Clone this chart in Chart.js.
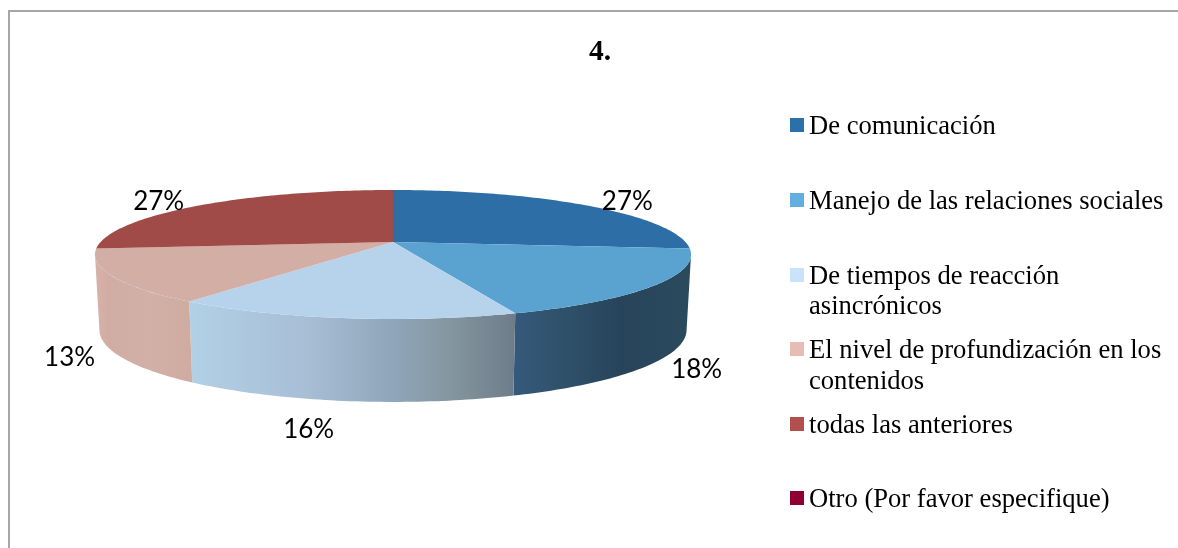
<!DOCTYPE html>
<html>
<head>
<meta charset="utf-8">
<style>html,body{margin:0;padding:0;background:#fff}canvas{display:block}</style>
<script src="https://cdn.jsdelivr.net/npm/chart.js@4/dist/chart.umd.min.js"></script>
</head>
<body>
<canvas id="c" width="1178" height="548"></canvas>
<script>
const titleText = '4.';
const categories = ['De comunicación','Manejo de las relaciones sociales','De tiempos de reacción asincrónicos','El nivel de profundización en los contenidos','todas las anteriores','Otro (Por favor especifique)'];
const counts = [12, 8, 7, 6, 12, 0];
const faceColors = ['#2c6ea5','#5aa3d0','#b7d3ec','#d3aea5','#a04b48','#8e0033'];
const swatchColors = ['#2c70a9','#62aede','#c9e3fa','#e6bdb4','#b04f4d','#8e0033'];
const wallStops = [
  [],
  [[0,'#35597a'],[0.3,'#2e5069'],[0.6,'#27445a'],[1,'#2c4a5e']],
  [[0,'#b2d0e6'],[0.35,'#a8bfd6'],[0.63,'#8fa5b9'],[0.8,'#84969f'],[1,'#6e7c8a']],
  [[0,'#d6b2a8'],[0.15,'#d0aca3'],[0.6,'#d3b0a7'],[1,'#cfaba0']],
  [],[]
];
const legendLines = [['De comunicación'],['Manejo de las relaciones sociales'],['De tiempos de reacción','asincrónicos'],['El nivel de profundización en los','contenidos'],['todas las anteriores'],['Otro (Por favor especifique)']];
const legendBaselines = [[134],[209],[284,314],[358,389],[433],[507]];
const labelOffsets = [[42,-4],[42,84],[-34,112],[-43,81],[-42,-4],[0,0]];

const geo = {cx:393, cy:242, R:292.4, k:62.08, p:0.1938, wallDy:74, wallSx:0.985, wallSy:1.116};
function proj(a){
  const u=Math.cos(a), v=Math.sin(a), w=1-geo.p*v;
  return [geo.cx+geo.R*u/w, geo.cy+geo.k*v/w];
}
function projBottom(a){
  const t=proj(a);
  return [geo.cx+(t[0]-geo.cx)*geo.wallSx, geo.cy+geo.wallDy+(t[1]-geo.cy)*geo.wallSy];
}
function samples(a0,a1){
  const n=Math.max(2,Math.ceil(Math.abs(a1-a0)/(Math.PI/180))), r=[];
  for(let i=0;i<=n;i++) r.push(a0+(a1-a0)*i/n);
  return r;
}
const pie3d = {
  id:'pie3d',
  beforeDatasetsDraw(chart){
    const ctx=chart.ctx, arcs=chart.getDatasetMeta(0).data;
    const lim=Math.asin(geo.p)+0;
    ctx.save();
    // walls
    arcs.forEach((arc,i)=>{
      if(arc.endAngle-arc.startAngle<=0) return;
      let a0=arc.startAngle, a1=arc.endAngle;
      const lo=lim, hi=Math.PI-lim;
      if(a1<=lo||a0>=hi||!wallStops[i].length) return;
      a0=Math.max(a0,lo); a1=Math.min(a1,hi);
      const as=samples(a0,a1), top=as.map(proj), bot=as.map(projBottom).reverse();
      const xs=top.map(p=>p[0]);
      const g=ctx.createLinearGradient(Math.min(...xs),0,Math.max(...xs),0);
      wallStops[i].forEach(s=>g.addColorStop(s[0],s[1]));
      ctx.beginPath();
      top.concat(bot).forEach((p,j)=>j?ctx.lineTo(p[0],p[1]):ctx.moveTo(p[0],p[1]));
      ctx.closePath();
      ctx.fillStyle=g; ctx.fill();
    });
    // top faces
    arcs.forEach((arc,i)=>{
      if(arc.endAngle-arc.startAngle<=0) return;
      ctx.beginPath();
      ctx.moveTo(geo.cx,geo.cy);
      samples(arc.startAngle,arc.endAngle).map(proj).forEach(p=>ctx.lineTo(p[0],p[1]));
      ctx.closePath();
      ctx.fillStyle=faceColors[i]; ctx.fill();
    });
    // data labels
    const total=counts.reduce((a,b)=>a+b,0);
    ctx.fillStyle='#000';
    ctx.font='26px Lato';
    ctx.textAlign='center'; ctx.textBaseline='middle';
    arcs.forEach((arc,i)=>{
      if(counts[i]<=0) return;
      const p=proj((arc.startAngle+arc.endAngle)/2);
      ctx.fillText(Math.round(counts[i]/total*100)+'%',p[0]+labelOffsets[i][0],p[1]+labelOffsets[i][1]);
    });
    ctx.restore();
    return false;
  },
  afterDraw(chart){
    const ctx=chart.ctx;
    ctx.save();
    // outer frame
    ctx.strokeStyle='#a6a6a6'; ctx.lineWidth=2;
    ctx.beginPath(); ctx.moveTo(9,548); ctx.lineTo(9,11); ctx.lineTo(1178,11); ctx.stroke();
    // title
    ctx.fillStyle='#000';
    ctx.font='bold 29.5px "Liberation Serif"';
    ctx.textAlign='center'; ctx.textBaseline='alphabetic';
    ctx.fillText(titleText,600,60);
    // legend
    ctx.textAlign='left';
    ctx.font='26.6px "Liberation Serif"';
    legendLines.forEach((lines,i)=>{
      const b=legendBaselines[i];
      ctx.fillStyle=swatchColors[i];
      ctx.fillRect(790,b[0]-16,14,14);
      ctx.fillStyle='#000';
      lines.forEach((t,j)=>ctx.fillText(t,809,b[j]));
    });
    ctx.restore();
  }
};
new Chart(document.getElementById('c'),{
  type:'pie',
  data:{labels:categories,datasets:[{data:counts,backgroundColor:faceColors,borderWidth:0}]},
  options:{
    responsive:false,animation:false,
    plugins:{legend:{display:false},title:{display:false},tooltip:{enabled:false}}
  },
  plugins:[pie3d]
});
</script>
</body>
</html>
